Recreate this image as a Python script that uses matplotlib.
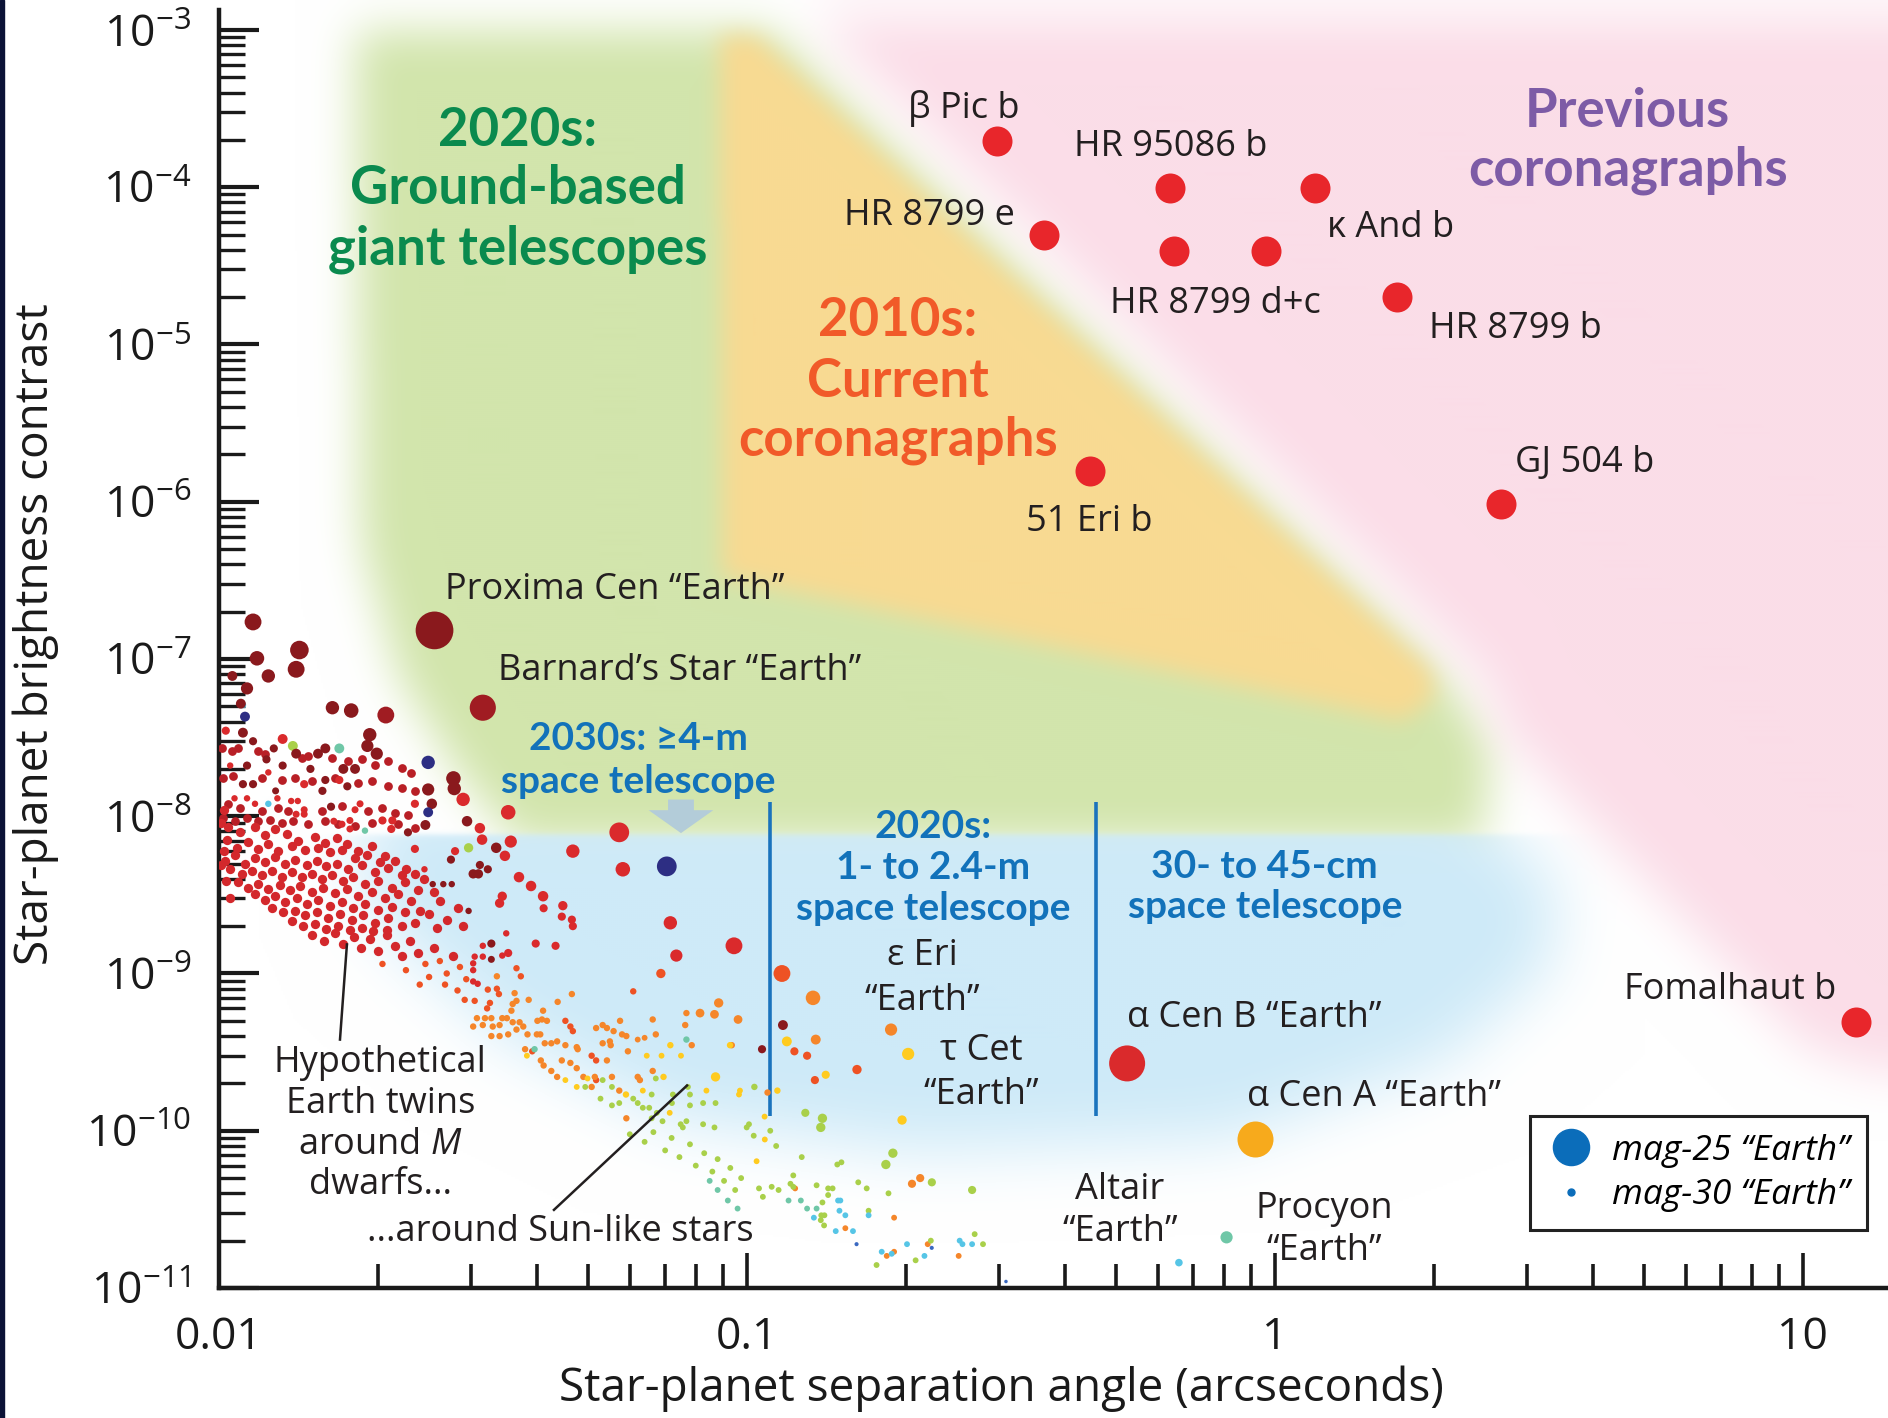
import numpy as np
import matplotlib
matplotlib.use('Agg')
import matplotlib.pyplot as plt
from matplotlib.path import Path
from matplotlib.lines import Line2D
from matplotlib.colors import to_rgb
from matplotlib.ticker import LogLocator, FixedLocator, FuncFormatter, NullFormatter
from matplotlib.patches import Rectangle

plt.rcParams['font.family'] = ['Open Sans', 'DejaVu Sans']
plt.rcParams['mathtext.fontset'] = 'custom'
plt.rcParams['mathtext.rm'] = 'Open Sans'
plt.rcParams['mathtext.it'] = 'Open Sans:italic'
plt.rcParams['mathtext.default'] = 'regular'

# ---------------- data ----------------
# directly imaged planets: separation (arcsec), contrast
planet_names = ['β Pic b', 'HR 95086 b', 'κ And b', 'HR 8799 e', 'HR 8799 d', 'HR 8799 c',
                'HR 8799 b', '51 Eri b', 'GJ 504 b', 'Fomalhaut b']
planet_sep = [0.298, 0.634, 1.19, 0.366, 0.644, 0.96, 1.70, 0.447, 2.68, 12.6]
planet_con = [1.97e-4, 9.9e-5, 9.9e-5, 4.97e-5, 3.95e-5, 3.95e-5, 1.99e-5, 1.56e-6, 9.7e-7, 4.9e-10]

# hypothetical Earth twins, grouped by host-star colour: (sep, contrast, planet magnitude)
earth_dark = [
    (0.0256, 1.52e-7, 24.7),  # Proxima Cen
    (0.0116, 1.72e-7, 28.3), (0.0142, 1.14e-7, 28.0), (0.0118, 1.01e-7, 28.7),
    (0.0140, 8.6e-8, 28.3), (0.0124, 7.8e-8, 28.9), (0.0106, 7.8e-8, 29.5),
    (0.0113, 6.5e-8, 29.1), (0.0164, 4.9e-8, 28.9), (0.0178, 4.7e-8, 28.7),
    (0.0110, 5.2e-8, 29.5), (0.0193, 3.3e-8, 28.9), (0.0191, 2.8e-8, 29.1),
    (0.0199, 2.5e-8, 29.1), (0.0111, 3.4e-8, 29.5), (0.0116, 3.0e-8, 29.8),
    (0.0127, 2.7e-8, 29.8), (0.0140, 2.5e-8, 29.5), (0.0154, 2.5e-8, 29.5),
    (0.0159, 2.7e-8, 29.5), (0.0123, 2.3e-8, 29.8), (0.0132, 2.1e-8, 29.8),
    (0.0113, 2.1e-8, 29.8), (0.0149, 2.0e-8, 29.8), (0.0172, 2.0e-8, 29.5),
    (0.0181, 2.0e-8, 29.5), (0.0159, 1.7e-8, 29.8), (0.0175, 1.55e-8, 29.8),
    (0.0157, 1.45e-8, 29.8), (0.0111, 1.6e-8, 29.8), (0.0116, 1.6e-8, 29.8),
    (0.0128, 1.45e-8, 30.0), (0.0163, 1.15e-8, 29.8), (0.0228, 7.9e-9, 29.8),
    (0.0278, 1.74e-8, 28.7), (0.0279, 1.5e-8, 28.9), (0.0249, 1.48e-8, 29.1),
    (0.0253, 1.2e-8, 29.4), (0.0246, 8.8e-9, 29.5), (0.0295, 9.3e-9, 29.4),
    (0.0335, 6.3e-9, 29.4), (0.0275, 5.3e-9, 29.8), (0.0312, 4.9e-9, 29.8),
    (0.0323, 4.6e-9, 29.8), (0.0303, 4.3e-9, 29.6), (0.0310, 4.3e-9, 29.6),
    (0.0254, 3.7e-9, 30.1), (0.0266, 3.7e-9, 30.1), (0.0276, 3.7e-9, 30.1),
    (0.0297, 2.5e-9, 30.1), (0.0328, 1.55e-9, 29.8), (0.0328, 1.23e-9, 30.0),
    (0.1068, 3.3e-10, 29.8), (0.117, 4.7e-10, 29.5),
]
earth_deep = [
    (0.0316, 4.9e-8, 26.7),  # Barnard's Star
    (0.0207, 4.4e-8, 28.3),
]
earth_red = [
    (0.0103, 3.5e-8, 29.8), (0.0132, 3.1e-8, 29.5), (0.0124, 1.9e-8, 30.1), (0.0105, 2.1e-8, 30.1),
    (0.0145, 1.6e-8, 29.8), (0.0169, 1.7e-8, 29.8), (0.0107, 1.3e-8, 30.1), (0.0113, 1.3e-8, 30.1),
    (0.0117, 1.2e-8, 30.1), (0.0137, 1.25e-8, 30.1), (0.0141, 1.25e-8, 30.1), (0.0129, 1.3e-8, 30.1),
    (0.0181, 1.1e-8, 30.0), (0.0185, 1.2e-8, 30.0), (0.0140, 1.03e-8, 30.0), (0.0145, 1.1e-8, 30.0),
    (0.0145, 1.03e-8, 30.0), (0.0235, 1.2e-8, 29.8), (0.0165, 9.3e-9, 30.0), (0.0171, 8.9e-9, 30.0),
    (0.0177, 9.4e-9, 30.0), (0.0177, 8.3e-9, 30.0), (0.0204, 9.4e-9, 29.8), (0.0213, 9.4e-9, 29.8),
    (0.0212, 8.3e-9, 29.8), (0.0235, 6.2e-9, 29.8),
    (0.0290, 1.28e-8, 28.9), (0.0353, 1.06e-8, 28.7), (0.0312, 8.4e-9, 29.4), (0.0315, 7.1e-9, 29.4),
    (0.0357, 6.9e-9, 29.1), (0.0348, 5.6e-9, 29.4), (0.0280, 6.0e-9, 29.8), (0.0573, 7.9e-9, 27.8),
    (0.0468, 6.0e-9, 28.9), (0.0582, 4.6e-9, 28.7), (0.0245, 4.6e-9, 30.1), (0.0370, 4.1e-9, 29.4),
    (0.0390, 3.6e-9, 29.4), (0.0411, 3.1e-9, 29.4), (0.0412, 2.6e-9, 29.8), (0.0344, 3.1e-9, 29.6),
    (0.0340, 2.8e-9, 29.6), (0.0448, 2.7e-9, 29.6), (0.0446, 2.3e-9, 29.8), (0.0466, 2.2e-9, 29.8),
    (0.0468, 2.0e-9, 29.8), (0.0716, 2.1e-9, 28.9), (0.0945, 1.5e-9, 28.3), (0.0735, 1.3e-9, 29.1),
    (0.0316, 1.5e-9, 30.1), (0.0350, 1.8e-9, 30.1), (0.0305, 1.28e-9, 30.1), (0.0316, 1.28e-9, 30.1),
    (0.0344, 1.3e-9, 30.1), (0.0353, 1.35e-9, 29.8), (0.0398, 1.55e-9, 29.8), (0.0434, 1.5e-9, 29.8),
    (0.0303, 1.16e-9, 30.1), (0.0303, 1.05e-9, 30.1), (0.0303, 8.9e-10, 30.1), (0.0309, 8.6e-10, 30.1),
    (0.525, 2.68e-10, 25.0),  # alpha Cen B
]
# the crowded M-dwarf band, all near magnitude 29.6
cloud_sep = [
    0.01041, 0.01096, 0.01170, 0.01222, 0.01277, 0.01344, 0.01413, 0.01519, 0.01587, 0.01670,
    0.01745, 0.01836, 0.01947, 0.02063,
    0.01034, 0.01080, 0.01137, 0.01187, 0.01240, 0.01296, 0.01373, 0.01455, 0.01541, 0.01622,
    0.01707, 0.01810, 0.01903, 0.02019, 0.02154, 0.02265,
    0.01026, 0.01072, 0.01120, 0.01170, 0.01222, 0.01277, 0.01334, 0.01393, 0.01466, 0.01530,
    0.01598, 0.01670, 0.01758, 0.01862, 0.01976, 0.02094, 0.02217, 0.02350,
    0.01049, 0.01104, 0.01153, 0.01204, 0.01258, 0.01315, 0.01373, 0.01434, 0.01497, 0.01564,
    0.01634, 0.01720, 0.01797, 0.01889, 0.02005, 0.02124, 0.02249, 0.02383,
    0.01088, 0.01137, 0.01187, 0.01240, 0.01305, 0.01363, 0.01424, 0.01497, 0.01575, 0.01658,
    0.01745, 0.01836, 0.01947, 0.02063, 0.02185, 0.02314,
    0.01170, 0.01222, 0.01277, 0.01334, 0.01404, 0.01466, 0.01541, 0.01622, 0.01707, 0.01797,
    0.01889, 0.02005, 0.02124, 0.02249, 0.02400,
    0.01258, 0.01324, 0.01393, 0.01455, 0.01530, 0.01610, 0.01695, 0.01784, 0.01876, 0.01976,
    0.02094, 0.02217, 0.02350,
    0.01373, 0.01444, 0.01519, 0.01598, 0.01683, 0.01771, 0.01862, 0.01961, 0.02078,
    0.0150, 0.0158, 0.0166, 0.0172, 0.0180, 0.0186, 0.0193, 0.0200, 0.0208, 0.0215,
    0.0222, 0.0230, 0.0238, 0.0255, 0.0278,
    0.0245, 0.0255, 0.0262, 0.0250, 0.0270, 0.0283, 0.0290, 0.0259,
    0.0101, 0.0102, 0.0101, 0.0103, 0.0102, 0.0105,
]
cloud_con = [
    8.6e-9, 7.9e-9, 8.5e-9, 7.6e-9, 8.3e-9, 7.7e-9, 7.0e-9, 7.4e-9, 6.8e-9, 7.3e-9,
    6.7e-9, 6.0e-9, 6.5e-9, 5.6e-9,
    7.1e-9, 6.3e-9, 6.9e-9, 6.2e-9, 6.7e-9, 6.0e-9, 6.5e-9, 6.1e-9, 6.3e-9, 5.9e-9,
    6.1e-9, 5.4e-9, 5.7e-9, 5.1e-9, 5.2e-9, 4.6e-9,
    5.2e-9, 5.7e-9, 5.0e-9, 5.4e-9, 5.1e-9, 5.5e-9, 5.0e-9, 5.3e-9, 4.9e-9, 5.2e-9,
    4.8e-9, 5.0e-9, 4.6e-9, 4.9e-9, 4.4e-9, 4.7e-9, 4.2e-9, 4.3e-9,
    4.6e-9, 4.3e-9, 4.5e-9, 4.2e-9, 4.5e-9, 4.1e-9, 4.4e-9, 4.1e-9, 4.3e-9, 4.0e-9,
    4.2e-9, 3.9e-9, 4.1e-9, 3.7e-9, 3.9e-9, 3.5e-9, 3.8e-9, 3.4e-9,
    3.8e-9, 3.5e-9, 3.7e-9, 3.45e-9, 3.65e-9, 3.4e-9, 3.6e-9, 3.3e-9, 3.5e-9, 3.25e-9,
    3.45e-9, 3.1e-9, 3.3e-9, 3.0e-9, 3.2e-9, 2.9e-9,
    3.2e-9, 2.95e-9, 3.1e-9, 2.85e-9, 3.0e-9, 2.75e-9, 2.95e-9, 2.7e-9, 2.85e-9, 2.6e-9,
    2.75e-9, 2.55e-9, 2.65e-9, 2.45e-9, 2.5e-9,
    2.6e-9, 2.45e-9, 2.5e-9, 2.35e-9, 2.45e-9, 2.25e-9, 2.4e-9, 2.2e-9, 2.35e-9, 2.1e-9,
    2.25e-9, 2.0e-9, 2.1e-9,
    2.15e-9, 2.0e-9, 2.05e-9, 1.92e-9, 2.0e-9, 1.88e-9, 1.95e-9, 1.85e-9, 1.9e-9,
    1.75e-9, 1.6e-9, 1.8e-9, 1.55e-9, 1.7e-9, 1.45e-9, 1.65e-9, 1.4e-9, 1.75e-9, 1.5e-9,
    1.3e-9, 1.6e-9, 1.35e-9, 1.45e-9, 1.3e-9,
    4.0e-9, 3.3e-9, 2.9e-9, 2.4e-9, 2.2e-9, 2.6e-9, 2.0e-9, 1.95e-9,
    9.0e-9, 6.0e-9, 4.9e-9, 3.9e-9, 1.1e-8, 3.0e-9,
]
# sparser, slightly darker points above the crowded band
upper_sep = [
    0.01012, 0.01057, 0.01088, 0.01187, 0.01222, 0.01434, 0.01476, 0.01634, 0.01758, 0.01862,
    0.01976, 0.02094, 0.02217, 0.02314,
    0.01019, 0.01064, 0.01204, 0.01315, 0.01393, 0.01497, 0.01658, 0.01836, 0.01947, 0.02094,
    0.02217, 0.02350,
    0.01041, 0.01096, 0.01204, 0.01296, 0.01353, 0.01564, 0.01707, 0.01918, 0.02034, 0.02154,
    0.02282,
    0.01019, 0.01072, 0.01129, 0.01187, 0.01249, 0.01315, 0.01383, 0.01476, 0.01587, 0.01683,
    0.01810, 0.01947, 0.02185, 0.02350,
]
upper_con = [
    2.72e-8, 2.59e-8, 2.72e-8, 2.59e-8, 2.47e-8, 2.35e-8, 2.41e-8, 2.35e-8, 2.24e-8, 2.30e-8,
    2.13e-8, 2.24e-8, 2.03e-8, 1.89e-8,
    1.75e-8, 1.80e-8, 1.75e-8, 1.71e-8, 1.75e-8, 1.67e-8, 1.75e-8, 1.63e-8, 1.67e-8, 1.55e-8,
    1.52e-8, 1.44e-8,
    1.19e-8, 1.13e-8, 1.08e-8, 1.13e-8, 1.08e-8, 1.08e-8, 1.16e-8, 1.08e-8, 1.13e-8, 1.05e-8,
    1.02e-8,
    9.76e-9, 9.29e-9, 9.76e-9, 9.29e-9, 9.52e-9, 9.07e-9, 9.29e-9, 8.89e-9, 9.29e-9, 8.89e-9,
    8.64e-9, 9.07e-9, 8.89e-9, 8.43e-9,
]
earth_vermilion = [
    (0.0687, 1.0e-9, 29.6), (0.1165, 1.0e-9, 28.3), (0.0609, 7.7e-10, 30.1), (0.0366, 1.08e-9, 30.1),
    (0.0373, 9.6e-10, 30.1), (0.0323, 7.9e-10, 30.1), (0.0336, 8.0e-10, 30.1), (0.0339, 7.4e-10, 30.1),
    (0.0305, 6.7e-10, 30.1), (0.0326, 6.5e-10, 30.1), (0.0322, 6.0e-10, 30.1), (0.0453, 5.0e-10, 30.1),
    (0.0463, 4.6e-10, 30.1), (0.0468, 4.3e-10, 30.1), (0.0392, 3.2e-10, 30.1), (0.0508, 3.0e-10, 30.1),
    (0.0518, 2.8e-10, 30.1), (0.0518, 2.1e-10, 30.1), (0.123, 3.2e-10, 29.8), (0.130, 3.0e-10, 29.8),
    (0.1616, 2.45e-10, 29.6), (0.1345, 2.1e-10, 29.8),
    (0.0246, 1.15e-9, 30.1), (0.0262, 1.2e-9, 30.1), (0.0270, 1.0e-9, 30.1), (0.0286, 1.1e-9, 30.1),
    (0.0294, 9.2e-10, 30.1), (0.0204, 1.15e-9, 30.1), (0.0226, 1.05e-9, 30.1), (0.0250, 9.5e-10, 30.1),
    (0.0268, 8.5e-10, 30.1), (0.0283, 7.8e-10, 30.1), (0.0240, 8.5e-10, 30.1), (0.0292, 6.8e-10, 30.1),
]
earth_orange = [
    (0.1334, 7.0e-10, 28.7), (0.0884, 6.5e-10, 29.6), (0.0815, 5.6e-10, 29.7), (0.0868, 5.5e-10, 29.7),
    (0.0768, 5.6e-10, 30.1), (0.0764, 4.7e-10, 30.1), (0.0663, 5.1e-10, 30.1), (0.0962, 5.1e-10, 29.7),
    (0.0672, 4.1e-10, 30.1), (0.0621, 3.8e-10, 30.2), (0.0640, 3.9e-10, 30.2), (0.0786, 3.5e-10, 30.1),
    (0.0936, 3.5e-10, 30.1), (0.135, 3.8e-10, 29.5),
    (0.1875, 4.4e-10, 29.1),  # eps Eri
    (0.0336, 9.6e-10, 30.1), (0.0363, 7.5e-10, 30.1), (0.0366, 6.7e-10, 30.1), (0.0386, 6.8e-10, 30.1),
    (0.0360, 6.4e-10, 30.1), (0.0358, 5.8e-10, 30.1), (0.0411, 5.8e-10, 30.1), (0.0409, 5.1e-10, 30.1),
    (0.0438, 6.6e-10, 30.1), (0.0466, 7.4e-10, 30.1), (0.0308, 5.2e-10, 30.1), (0.0319, 5.2e-10, 30.1),
    (0.0328, 5.2e-10, 30.1), (0.0344, 5.2e-10, 30.1), (0.0351, 5.2e-10, 30.1), (0.0371, 4.9e-10, 30.1),
    (0.0360, 4.9e-10, 30.1), (0.0401, 5.0e-10, 30.1), (0.0418, 5.0e-10, 30.1), (0.0303, 4.6e-10, 30.1),
    (0.0316, 4.7e-10, 30.1), (0.0330, 4.6e-10, 30.1), (0.0340, 4.7e-10, 30.1), (0.0353, 4.1e-10, 30.1),
    (0.0366, 4.4e-10, 30.1), (0.0377, 4.6e-10, 30.1), (0.0518, 4.5e-10, 30.1), (0.0533, 4.7e-10, 30.1),
    (0.0543, 4.5e-10, 30.1), (0.0559, 4.3e-10, 30.1), (0.0575, 5.0e-10, 30.1), (0.0580, 4.1e-10, 30.1),
    (0.0384, 4.1e-10, 30.1), (0.0400, 4.1e-10, 30.1), (0.0406, 4.1e-10, 30.1), (0.0328, 4.0e-10, 30.1),
    (0.0340, 4.0e-10, 30.1), (0.0380, 3.3e-10, 30.1), (0.0414, 3.6e-10, 30.1), (0.0426, 3.6e-10, 30.1),
    (0.0437, 3.7e-10, 30.1), (0.0453, 3.5e-10, 30.1), (0.0476, 3.4e-10, 30.1), (0.0478, 3.3e-10, 30.1),
    (0.0543, 2.8e-10, 30.1), (0.0533, 3.6e-10, 30.1), (0.0550, 3.7e-10, 30.1), (0.0552, 3.5e-10, 30.1),
    (0.0591, 4.0e-10, 30.1), (0.0595, 3.2e-10, 30.1), (0.0407, 2.8e-10, 30.1), (0.0412, 2.6e-10, 30.1),
    (0.0426, 2.4e-10, 30.1), (0.0437, 2.2e-10, 30.1), (0.0446, 2.8e-10, 30.1), (0.0463, 2.7e-10, 30.1),
    (0.0476, 2.5e-10, 30.1), (0.0490, 2.2e-10, 30.1), (0.0508, 1.9e-10, 30.1), (0.0515, 2.2e-10, 30.1),
    (0.0555, 2.2e-10, 30.1), (0.0573, 1.8e-10, 30.1), (0.0591, 1.2e-10, 30.1), (0.0621, 2.2e-10, 30.1),
    (0.0627, 2.1e-10, 30.1), (0.0663, 2.4e-10, 30.1), (0.1094, 1.75e-10, 30.1), (0.2054, 4.6e-11, 29.8),
    (0.2129, 5.0e-11, 29.8), (0.1234, 4.3e-11, 30.2), (0.1900, 2.8e-11, 30.2), (0.1536, 2.4e-11, 30.2),
    (0.184, 1.6e-11, 30.2), (0.190, 1.7e-11, 30.2), (0.2200, 1.9e-11, 30.2), (0.2518, 1.6e-11, 30.2),
]
earth_amber = [
    (0.917, 8.8e-11, 25.0),  # alpha Cen A
]
earth_yellow = [
    (0.202, 3.08e-10, 29.1),  # tau Cet
    (0.119, 3.7e-10, 29.5), (0.0716, 3.5e-10, 30.1), (0.0929, 3.5e-10, 30.1), (0.0646, 3.0e-10, 30.2),
    (0.0689, 3.0e-10, 30.2), (0.0750, 3.0e-10, 30.2), (0.0383, 3.0e-10, 30.2), (0.0453, 2.1e-10, 30.2),
    (0.0476, 1.9e-10, 30.2), (0.0499, 2.15e-10, 30.2), (0.0590, 1.7e-10, 30.1), (0.0695, 2.2e-10, 30.1),
    (0.0635, 1.8e-10, 30.2), (0.0714, 1.3e-10, 30.2), (0.0838, 1.8e-10, 30.2), (0.0872, 2.2e-10, 29.6),
    (0.0966, 1.7e-10, 30.2), (0.141, 2.27e-10, 29.8), (0.1142, 1.8e-10, 30.1), (0.097, 1.8e-10, 30.2),
    (0.108, 1.23e-10, 30.2), (0.1967, 1.17e-10, 29.6), (0.1081, 8.8e-11, 30.2), (0.1043, 6.4e-11, 30.2),
]
earth_lime = [
    (0.0138, 2.8e-8, 29.5), (0.0297, 6.3e-9, 29.6), (0.0494, 1.9e-10, 30.2), (0.0533, 2.1e-10, 30.2),
    (0.0555, 1.9e-10, 30.2), (0.0528, 1.6e-10, 30.2), (0.0555, 1.45e-10, 30.2), (0.0573, 1.5e-10, 30.2),
    (0.0660, 1.7e-10, 30.2), (0.0672, 2.15e-10, 30.2), (0.0609, 1.6e-10, 30.2), (0.0621, 1.5e-10, 30.2),
    (0.0635, 1.4e-10, 30.2), (0.0653, 1.4e-10, 30.2), (0.0660, 1.2e-10, 30.2), (0.0675, 1.3e-10, 30.2),
    (0.0721, 1.5e-10, 30.2), (0.0692, 1.15e-10, 30.2), (0.0724, 1.7e-10, 30.2), (0.0773, 1.9e-10, 30.2),
    (0.0780, 1.7e-10, 30.2), (0.0780, 1.45e-10, 30.2), (0.0826, 1.5e-10, 30.2), (0.0872, 1.5e-10, 30.2),
    (0.0749, 1.1e-10, 30.2), (0.0768, 1.15e-10, 30.2), (0.0756, 1.05e-10, 30.2), (0.0826, 1.1e-10, 30.2),
    (0.0868, 1.05e-10, 30.2), (0.0999, 1.05e-10, 30.2), (0.1033, 1.9e-10, 30.1), (0.129, 1.3e-10, 29.8),
    (0.139, 1.2e-10, 29.6), (0.138, 1.05e-10, 29.6), (0.1009, 1.1e-10, 30.2), (0.1030, 9.3e-11, 30.2),
    (0.1107, 1.0e-10, 30.2), (0.1136, 8.0e-11, 30.2), (0.127, 6.8e-11, 30.2), (0.1483, 6.1e-11, 30.2),
    (0.151, 6.3e-11, 30.2), (0.189, 7.2e-11, 29.6), (0.1833, 6.1e-11, 29.6), (0.1224, 5.2e-11, 30.2),
    (0.1625, 4.7e-11, 30.2), (0.1686, 4.3e-11, 30.2), (0.1854, 4.0e-11, 30.2), (0.2240, 4.7e-11, 29.8),
    (0.2670, 4.2e-11, 29.8), (0.1054, 4.3e-11, 30.2), (0.1114, 4.4e-11, 30.2), (0.1148, 4.2e-11, 30.2),
    (0.1209, 4.6e-11, 30.2), (0.1224, 4.4e-11, 30.2), (0.1355, 4.5e-11, 30.2), (0.1425, 4.3e-11, 30.2),
    (0.1453, 4.3e-11, 30.2), (0.1425, 3.9e-11, 30.2), (0.1072, 3.8e-11, 30.2), (0.1390, 3.5e-11, 30.2),
    (0.1700, 3.1e-11, 30.2), (0.1383, 2.9e-11, 30.2), (0.1402, 2.9e-11, 30.2), (0.138, 2.7e-11, 30.2),
    (0.140, 2.5e-11, 30.2), (0.176, 1.4e-11, 30.2), (0.2230, 2.0e-11, 30.2), (0.2087, 1.5e-11, 30.2),
    (0.2700, 2.2e-11, 30.2), (0.2800, 1.9e-11, 30.2),
    (0.0600, 9.5e-11, 30.2), (0.0640, 8.5e-11, 30.2), (0.0665, 9.8e-11, 30.2), (0.0700, 7.5e-11, 30.2),
    (0.0720, 9.0e-11, 30.2), (0.0745, 6.8e-11, 30.2), (0.0780, 8.2e-11, 30.2), (0.0800, 6.0e-11, 30.2),
    (0.0830, 7.2e-11, 30.2), (0.0860, 5.5e-11, 30.2), (0.0880, 6.6e-11, 30.2), (0.0905, 4.8e-11, 30.2),
    (0.0930, 5.8e-11, 30.2), (0.0950, 4.2e-11, 30.2), (0.0975, 5.0e-11, 30.2),
]
earth_teal = [
    (0.0169, 2.7e-8, 29.5), (0.0189, 8.1e-9, 30.1), (0.0396, 3.3e-10, 30.1), (0.0768, 3.8e-10, 30.1),
    (0.1199, 3.6e-11, 30.2), (0.1265, 3.6e-11, 30.2), (0.1300, 3.2e-11, 30.2), (0.1355, 3.2e-11, 30.2),
    (0.0880, 4.2e-11, 30.2), (0.0920, 3.6e-11, 30.2), (0.0960, 3.2e-11, 30.2), (0.0850, 4.8e-11, 30.2),
    (0.81, 2.1e-11, 29.1),  # Procyon
]
earth_cyan = [
    (0.0111, 5.1e-8, 30.1), (0.0124, 1.2e-8, 30.1), (0.1339, 2.8e-11, 30.2), (0.1488, 3.6e-11, 30.2),
    (0.1503, 3.6e-11, 30.2), (0.1497, 3.1e-11, 30.2), (0.1536, 2.9e-11, 30.2), (0.1473, 2.3e-11, 30.2),
    (0.1588, 2.3e-11, 30.2), (0.1700, 2.9e-11, 30.2), (0.180, 1.7e-11, 30.2), (0.188, 1.65e-11, 30.2),
    (0.2010, 1.9e-11, 30.2), (0.2169, 1.6e-11, 30.2), (0.2529, 2.0e-11, 30.2), (0.2560, 1.9e-11, 30.2),
    (0.2670, 1.9e-11, 30.2),
    (0.658, 1.45e-11, 29.9),  # Altair
]
earth_navy = [
    (0.0112, 4.3e-8, 29.5), (0.0249, 2.2e-8, 28.9), (0.0249, 1.06e-8, 29.5), (0.0705, 4.8e-9, 27.8),
]
earth_blue = [
    (0.1613, 1.9e-11, 30.5), (0.2239, 1.8e-11, 30.5), (0.3095, 1.1e-11, 30.6),
]

# shaded capability zones (sep, contrast vertices)
zone_ground = [(0.0181, 1.0e-3), (0.111, 1.0e-3), (2.10, 7.9e-8), (2.59, 2.74e-8), (2.46, 6.67e-9),
               (0.0368, 6.67e-9), (0.0283, 1.92e-8), (0.0218, 7.9e-8), (0.0186, 5.5e-7)]
zone_current = [(0.0890, 9.15e-4), (0.1041, 9.15e-4), (1.973, 8.6e-8), (2.01, 5.74e-8),
                (1.75, 4.04e-8), (0.0899, 3.36e-7)]
zone_previous = [(0.1333, 1.19e-3), (17.2, 1.19e-3), (17.2, 1.95e-10), (10.2, 3.31e-10),
                 (2.73, 3.26e-8), (2.46, 7.9e-8)]
zone_space = [(0.02176, 1.35e-8), (2.2, 1.35e-8), (3.4, 4.0e-9), (3.37, 1.14e-9), (2.10, 2.77e-10),
              (0.817, 8.8e-11), (0.2083, 7.38e-11), (0.0729, 1.15e-10), (0.0349, 3.95e-10),
              (0.02065, 1.94e-9), (0.01764, 6.67e-9)]
space_top = 7.67e-9

# instrument limits
space_split = [0.1106, 0.458]
split_span = (1.23e-8, 1.25e-10)

# ---------------- figure ----------------
W, H = 1888, 1418
fig = plt.figure(figsize=(W / 100, H / 100), dpi=100)
ax = fig.add_axes([219 / W, 130 / H, 1669 / W, 1278 / H])
ax.set_xscale('log')
ax.set_yscale('log')
ax.set_xlim(0.01, 14.5)
ax.set_ylim(1e-11, 1.34e-3)

# soft coloured zones, rasterised in pixel space and blurred
STEP = 2
ny, nx = H // STEP, W // STEP
GX, GY = np.meshgrid((np.arange(nx) + 0.5) * STEP, (np.arange(ny) + 0.5) * STEP)
grid_pts = np.column_stack([GX.ravel(), GY.ravel()])


def zone_mask(verts):
    pix = ax.transData.transform(np.asarray(verts, dtype=float))
    return Path(pix).contains_points(grid_pts).reshape(ny, nx).astype(float)


def box_blur(a, r, axis):
    pad = [(0, 0), (0, 0)]
    pad[axis] = (r + 1, r)
    c = np.cumsum(np.pad(a, pad, mode='edge'), axis=axis)
    n = 2 * r + 1
    if axis == 0:
        return (c[n:] - c[:-n]) / n
    return (c[:, n:] - c[:, :-n]) / n


def soften(a, r):
    for _ in range(3):
        a = box_blur(a, r, 0)
        a = box_blur(a, r, 1)
    return a


img = np.ones((ny, nx, 3))


def paint(alpha, color):
    global img
    rgb = np.array(to_rgb(color))
    img = img * (1 - alpha[..., None]) + rgb * alpha[..., None]


paint(soften(zone_mask(zone_ground), 10), '#D2E5AC')
paint(soften(zone_mask(zone_current), 5), '#F8DA92')
paint(soften(zone_mask(zone_previous), 11), '#FBDDE8')
y_top = ax.transData.transform((1.0, space_top))[1]
crisp = 1.0 / (1.0 + np.exp((GY - y_top) / 1.5))
paint(soften(zone_mask(zone_space), 15) * crisp, '#CEEAF8')

bg = fig.add_axes([0, 0, 1, 1], zorder=0)
bg.imshow(img, extent=(0, W, 0, H), origin='lower', interpolation='bilinear', aspect='auto')
bg.set_xlim(0, W)
bg.set_ylim(0, H)
bg.set_axis_off()
ax.set_zorder(1)
ax.patch.set_visible(False)

# dark slide edge on the left
fig.patches.append(Rectangle((0, 0), 4 / W, 1, transform=fig.transFigure, color='#0B1236', zorder=5))


def mag_to_area(mag):
    r_px = 18.0 - (np.asarray(mag, dtype=float) - 25.0) * 2.9
    return (2 * r_px * 0.72) ** 2


def plot_group(points, color, z=3):
    arr = np.array(points, dtype=float)
    arr = arr[np.argsort(-arr[:, 2])]
    ax.scatter(arr[:, 0], arr[:, 1], s=mag_to_area(arr[:, 2]), color=color, linewidths=0, zorder=z)


ax.scatter(upper_sep, upper_con, s=mag_to_area(29.7), color='#B81F26', linewidths=0, zorder=3)
ax.scatter(cloud_sep, cloud_con, s=mag_to_area(29.6), color='#D3282C', linewidths=0, zorder=3)
plot_group(earth_red, '#DA2A2C', 3)
plot_group(earth_vermilion, '#EE5224', 3)
plot_group(earth_orange, '#F5862A', 3)
plot_group(earth_yellow, '#FFCB1F', 3)
plot_group(earth_lime, '#A9D04A', 3)
plot_group(earth_teal, '#6FC7A7', 3)
plot_group(earth_cyan, '#56C5E6', 3)
plot_group(earth_blue, '#3A68C0', 3)
plot_group(earth_dark, '#8A191D', 4)
plot_group(earth_deep, '#A01C22', 4)
plot_group(earth_navy, '#2D2E83', 4)
plot_group(earth_amber, '#F7AA1C', 4)
ax.scatter(planet_sep, planet_con, s=(30 * 0.72) ** 2, color='#E8262B', linewidths=0, zorder=4)

# space telescope boundaries and arrow
for xs in space_split:
    ax.plot([xs, xs], split_span, color='#1A73BD', lw=2.6, zorder=2, solid_capstyle='butt')
ax.annotate('', xy=(0.075, 7.5e-9), xytext=(0.075, 1.33e-8), zorder=2,
            arrowprops=dict(arrowstyle='simple,head_length=0.55,head_width=1.55,tail_width=0.62',
                            mutation_scale=30, color='#B3CCD9', lw=0))

# axes styling
for side in ('top', 'right'):
    ax.spines[side].set_visible(False)
for side in ('left', 'bottom'):
    ax.spines[side].set_linewidth(3.2)
    ax.spines[side].set_color('#1A1A1A')
ax.xaxis.set_major_locator(FixedLocator([0.01, 0.1, 1, 10]))
ax.yaxis.set_major_locator(FixedLocator([10.0 ** e for e in range(-11, -2)]))
ax.xaxis.set_minor_locator(LogLocator(base=10, subs=np.arange(2, 10), numticks=20))
ax.yaxis.set_minor_locator(LogLocator(base=10, subs=np.arange(2, 10), numticks=20))
ax.xaxis.set_minor_formatter(NullFormatter())
ax.yaxis.set_minor_formatter(NullFormatter())
ax.xaxis.set_major_formatter(FuncFormatter(lambda v, _: f'{v:g}'))
ax.yaxis.set_major_formatter(FuncFormatter(lambda v, _: r'$10^{%d}$' % round(np.log10(v))))
ax.tick_params(which='both', direction='in', color='#1A1A1A', labelsize=32, labelcolor='#1A1A1A', pad=20)
ax.tick_params(axis='y', which='major', length=29, width=3)
ax.tick_params(axis='y', which='minor', length=19, width=2.4)
ax.tick_params(axis='x', which='major', length=25, width=2.6)
ax.tick_params(axis='x', which='minor', length=17, width=2.6)

ax.set_xlabel('Star-planet separation angle (arcseconds)', fontsize=33, color='#1A1A1A')
ax.xaxis.set_label_coords(0.469, -0.079)
ax.xaxis.label.set_va('center')
ax.set_ylabel('Star-planet brightness contrast', fontsize=33, color='#1A1A1A')
ax.yaxis.set_label_coords(-0.1096, 0.512)
ax.yaxis.label.set_va('center')

# labels
TXT = '#231F20'
BOLD = ['Lato', 'DejaVu Sans']


def label(x, y, s, dy=-2.6, **kw):
    opts = dict(fontsize=26, color=TXT, va='center', ha='center', zorder=6)
    opts.update(kw)
    ax.annotate(s, (x, y), xytext=(0, dy), textcoords='offset points', **opts)


label(0.2576, 3.33e-4, 'β Pic b')
label(0.636, 1.91e-4, 'HR 95086 b')
label(0.322, 6.93e-5, 'HR 8799 e', ha='right')
label(1.254, 5.81e-5, 'κ And b', ha='left')
label(0.773, 1.91e-5, 'HR 8799 d+c')
label(1.958, 1.32e-5, 'HR 8799 b', ha='left')
label(2.85, 1.85e-6, 'GJ 504 b', ha='left')
label(0.446, 7.8e-7, '51 Eri b')
label(7.27, 8.26e-10, 'Fomalhaut b')
label(0.0268, 2.88e-7, 'Proxima Cen “Earth”', ha='left')
label(0.0338, 8.9e-8, 'Barnard’s Star “Earth”', ha='left')
label(0.2146, 1.36e-9, 'ε Eri')
label(0.2146, 7.0e-10, '“Earth”')
label(0.2774, 3.38e-10, 'τ Cet')
label(0.2774, 1.77e-10, '“Earth”')
label(0.525, 5.48e-10, 'α Cen B “Earth”', ha='left')
label(0.885, 1.72e-10, 'α Cen A “Earth”', ha='left')
label(0.509, 4.4e-11, 'Altair')
label(0.509, 2.38e-11, '“Earth”')
label(1.239, 3.33e-11, 'Procyon')
label(1.239, 1.8e-11, '“Earth”')
label(0.0202, 2.83e-10, 'Hypothetical')
label(0.0202, 1.57e-10, 'Earth twins')
label(0.0202, 8.6e-11, r'around $\mathit{M}$')
label(0.0202, 4.73e-11, 'dwarfs...')
label(0.0444, 2.41e-11, '...around Sun-like stars')
ax.plot([0.01747, 0.01695], [1.53e-9, 3.8e-10], color=TXT, lw=1.8, zorder=6)
ax.plot([0.0770, 0.0431], [1.94e-10, 3.14e-11], color=TXT, lw=1.8, zorder=6)

big = dict(fontsize=38, fontweight='bold', family=BOLD, dy=-3.6)
for y, s in [(2.48e-4, '2020s:'), (1.05e-4, 'Ground-based'), (4.33e-5, 'giant telescopes')]:
    label(0.0368, y, s, color='#0A8A4E', **big)
for y, s in [(1.53e-5, '2010s:'), (6.25e-6, 'Current'), (2.63e-6, 'coronagraphs')]:
    label(0.193, y, s, color='#F15A29', **big)
for y, s in [(3.28e-4, 'Previous'), (1.38e-4, 'coronagraphs')]:
    label(4.66, y, s, color='#7D5BA6', **big)

mid = dict(fontsize=28, fontweight='bold', family=BOLD, color='#1272BA', dy=-2.2)
label(0.0622, 3.28e-8, '2030s: ≥4-m', **mid)
label(0.0622, 1.75e-8, 'space telescope', **mid)
label(0.225, 9.0e-9, '2020s:', **mid)
label(0.225, 4.94e-9, '1- to 2.4-m', **mid)
label(0.225, 2.71e-9, 'space telescope', **mid)
label(0.957, 5.0e-9, '30- to 45-cm', **mid)
label(0.957, 2.79e-9, 'space telescope', **mid)

# magnitude key
key_color = '#0B6DBA'
handles = [Line2D([], [], marker='o', ls='', color=key_color, markersize=26),
           Line2D([], [], marker='o', ls='', color=key_color, markersize=5)]
leg = ax.legend(handles, ['mag-25 “Earth”', 'mag-30 “Earth”'], loc='lower right',
                bbox_to_anchor=(0.9874, 0.0454), borderaxespad=0, frameon=True, fancybox=False,
                edgecolor='#222222', facecolor='white', framealpha=1,
                prop=dict(family='Open Sans', style='italic', size=25.5),
                handletextpad=0.5, borderpad=0.5, labelspacing=0.3, handlelength=1.3)
leg.get_frame().set_linewidth(2.2)
leg.set_zorder(7)

fig.savefig('out.png', dpi=100)
